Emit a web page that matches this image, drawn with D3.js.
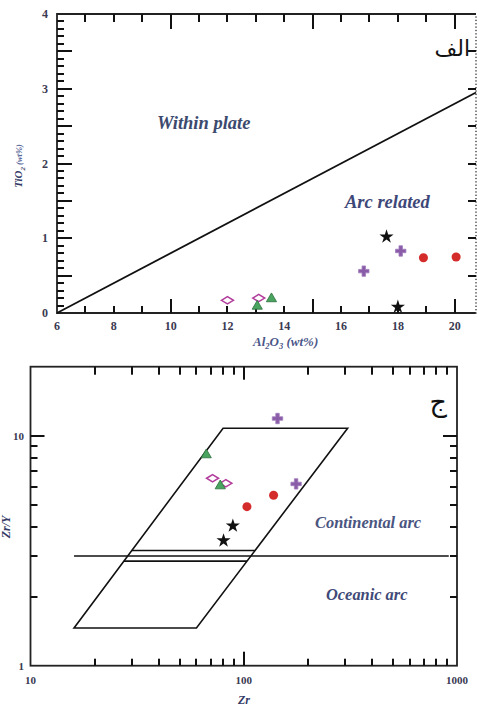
<!DOCTYPE html>
<html><head><meta charset="utf-8">
<script src="https://cdn.jsdelivr.net/npm/d3@7"></script>
<style>
html,body{margin:0;padding:0;background:#fff;}
svg{display:block;}
</style></head>
<body>
<svg id="c" width="478" height="706"></svg>
<script>
// ---------- DATA: panel "الف" (Al2O3 vs TiO2) ----------
const topDiamonds  = [[12.0, 0.17], [13.1, 0.20]];
const topTriangles = [[13.05, 0.09], [13.55, 0.19]];
const topCrosses   = [[16.8, 0.56], [18.1, 0.83]];
const topCircles   = [[18.9, 0.74], [20.05, 0.75]];
const topStars     = [[17.6, 1.02], [18.0, 0.08]];
const topBoundarySlope = 0.2;   // TiO2 = 0.2 * (Al2O3 - 6)
const topXLabels   = [6, 8, 10, 12, 14, 16, 18, 20];
const topXMajor    = [10, 15, 20];
const topXMinor    = [7, 8, 9, 11, 12, 13, 14, 16, 17, 18, 19];
const topYLabels   = [0, 1, 2, 3, 4];
const topYHalf     = [0.5, 1, 1.5, 2, 2.5, 3, 3.5];
const topYTenths   = [0.1,0.2,0.3,0.4,0.6,0.7,0.8,0.9,1.1,1.2,1.3,1.4,1.6,1.7,1.8,1.9,2.1,2.2,2.3,2.4,2.6,2.7,2.8,2.9,3.1,3.2,3.3,3.4,3.6,3.7,3.8,3.9];

// ---------- DATA: panel "ج" (Zr vs Zr/Y) ----------
const botDiamonds  = [[71.4, 6.54], [82.4, 6.22]];
const botTriangles = [[66.7, 8.27], [77.6, 6.06]];
const botCrosses   = [[144, 11.9], [176, 6.18]];
const botCircles   = [[103.5, 4.92], [138, 5.52]];
const botStars     = [[80.4, 3.5], [88.9, 4.06]];
const contArcField = [[16, 1.46], [60, 1.46], [307, 10.8], [80, 10.8]];
const arcDivider   = [[16, 3.0], [915, 3.0]];
const doubleLines  = [3.17, 2.85];
const botXLabels   = [10, 100, 1000];
const botXMinor    = [20, 30, 40, 50, 60, 70, 80, 90, 200, 300, 400, 500, 600, 700, 800, 900];
const botXMajor    = [100];
const botYLabels   = [1, 10];
const botYMinor    = [2, 3, 4, 5, 6, 7, 8, 9];

const svg = d3.select("#c");
const serif = "'Liberation Serif','DejaVu Serif',serif";
const labColor = "#3a3a52";
const titleColor = "#4a5688";

const colors = {diamond:"#b23c9c", triFill:"#48a45e", triStroke:"#2b6e3c", cross:"#8a5ca8", circle:"#d42b2b", star:"#111"};

const wideDiamond = {draw(ctx, size){const w=Math.sqrt(size)*0.75, h=Math.sqrt(size)*0.45; ctx.moveTo(-w,0);ctx.lineTo(0,-h);ctx.lineTo(w,0);ctx.lineTo(0,h);ctx.closePath();}};

function drawMarkers(g, xs, ys, sets){
  const sym = (type,size)=>d3.symbol().type(type).size(size)();
  g.selectAll(null).data(sets.diamonds).join("path")
    .attr("d", sym(wideDiamond, 64)).attr("transform", d=>`translate(${xs(d[0])},${ys(d[1])})`)
    .attr("fill","#fff").attr("stroke",colors.diamond).attr("stroke-width",1.5);
  g.selectAll(null).data(sets.triangles).join("path")
    .attr("d", sym(d3.symbolTriangle, 45)).attr("transform", d=>`translate(${xs(d[0])},${ys(d[1])})`)
    .attr("fill",colors.triFill).attr("stroke",colors.triStroke).attr("stroke-width",0.8);
  g.selectAll(null).data(sets.crosses).join("path")
    .attr("d", sym(d3.symbolCross, 60)).attr("transform", d=>`translate(${xs(d[0])},${ys(d[1])})`)
    .attr("fill",colors.cross).attr("stroke","#a07cbc").attr("stroke-width",0.8).attr("stroke-linejoin","round");
  g.selectAll(null).data(sets.circles).join("path")
    .attr("d", sym(d3.symbolCircle, 64)).attr("transform", d=>`translate(${xs(d[0])},${ys(d[1])})`)
    .attr("fill",colors.circle);
  g.selectAll(null).data(sets.stars).join("path")
    .attr("d", sym(d3.symbolStar, 62)).attr("transform", d=>`translate(${xs(d[0])},${ys(d[1])})`)
    .attr("fill",colors.star);
}

// tick marks as filled rects (one per value), positioned with the scales
function tickMarks(g, scale, values, orient, pos, len){
  const horiz = (orient === "bottom" || orient === "top");
  const w = 2;
  g.selectAll(null).data(values).join("rect")
    .attr("x", v => horiz ? Math.round(scale(v)) - w/2 : (orient === "left" ? pos : pos - len))
    .attr("y", v => horiz ? (orient === "top" ? pos : pos - len) : Math.round(scale(v)) - w/2)
    .attr("width", horiz ? w : len)
    .attr("height", horiz ? len : w)
    .attr("fill","#111");
}

// ================= TOP PANEL =================
const xT = d3.scaleLinear([6, 20.75], [57, 476]);
const yT = d3.scaleLinear([0, 4], [313, 14]);
const gT = svg.append("g");

gT.append("path").attr("d", `M${xT(20.75)},${yT(0)}H${xT(6)}V${yT(4)}H${xT(20.75)}`).attr("fill","none").attr("stroke","#222").attr("stroke-width",1.8);
// dotted right border as small dots
gT.selectAll(null).data(d3.range(0, 4.001, 0.045)).join("rect")
  .attr("x", xT(20.75) - 0.8).attr("y", v => yT(v) - 0.6).attr("width", 1.6).attr("height", 1.3).attr("fill","#555");

tickMarks(gT, xT, topXMinor, "bottom", yT(0), 7);
tickMarks(gT, xT, topXMajor, "bottom", yT(0), 14);
tickMarks(gT, xT, topXMinor, "top", yT(4), 8);
tickMarks(gT, xT, topXMajor, "top", yT(4), 15);
tickMarks(gT, yT, topYTenths, "left", xT(6), 7);
tickMarks(gT, yT, topYHalf, "left", xT(6), 15);
tickMarks(gT, yT, topYHalf, "right", xT(20.75), 8);

gT.selectAll(null).data(topXLabels).join("text")
  .attr("x", d=>xT(d)).attr("y", yT(0)+17).attr("text-anchor","middle")
  .attr("font-family",serif).attr("font-weight","bold").attr("font-size",12).attr("fill",labColor).text(d=>d);
gT.selectAll(null).data(topYLabels).join("text")
  .attr("x", 48).attr("y", d=>yT(d)+4).attr("text-anchor","end")
  .attr("font-family",serif).attr("font-weight","bold").attr("font-size",12).attr("fill",labColor).text(d=>d);

const xDom = xT.domain();
gT.append("path")
  .attr("d", d3.line().x(d=>xT(d[0])).y(d=>yT(d[1]))(xDom.map(a => [a, topBoundarySlope*(a-6)])))
  .attr("fill","none").attr("stroke","#111").attr("stroke-width",1.8);

gT.append("text").attr("x",157).attr("y",129).attr("font-family",serif).attr("font-style","italic").attr("font-weight","bold").attr("font-size",18.5).attr("fill","#3b4a6e").text("Within plate");
gT.append("text").attr("x",345).attr("y",208).attr("font-family",serif).attr("font-style","italic").attr("font-weight","bold").attr("font-size",18.5).attr("fill","#3e4878").text("Arc related");

gT.append("text").attr("x",470).attr("y",56).attr("text-anchor","end").attr("font-family","'DejaVu Sans','Noto Sans',sans-serif").attr("font-size",22).attr("fill","#111").text("الف");

const xtT = gT.append("text").attr("x",253).attr("y",346).attr("font-family",serif).attr("font-style","italic").attr("font-weight","bold").attr("font-size",13).attr("fill",titleColor);
xtT.append("tspan").text("Al");
xtT.append("tspan").attr("font-size",8.5).attr("dy",3).text("2");
xtT.append("tspan").attr("dy",-3).text("O");
xtT.append("tspan").attr("font-size",8.5).attr("dy",3).text("3");
xtT.append("tspan").attr("dy",-3).text("  (wt%)");

const ytT = gT.append("text").attr("transform","translate(22,166) rotate(-90)").attr("text-anchor","middle").attr("font-family",serif).attr("font-style","italic").attr("font-weight","bold").attr("font-size",11).attr("fill","#343a66");
ytT.append("tspan").text("TiO");
ytT.append("tspan").attr("font-size",7).attr("dy",3).text("2");
ytT.append("tspan").attr("dy",-3).attr("font-size",8.5).attr("fill","#5a6a9a").text(" (wt%)");

drawMarkers(gT, xT, yT, {diamonds:topDiamonds, triangles:topTriangles, crosses:topCrosses, circles:topCircles, stars:topStars});

// ================= BOTTOM PANEL =================
const xB = d3.scaleLog([10, 1000], [30.5, 457]);
const yB = d3.scaleLog([1, 20], [665.7, 366.7]);
const gB = svg.append("g");

gB.append("rect").attr("x",xB(10)).attr("y",yB(20)).attr("width",xB(1000)-xB(10)).attr("height",yB(1)-yB(20))
  .attr("fill","none").attr("stroke","#222").attr("stroke-width",1.8);

tickMarks(gB, xB, botXMinor, "bottom", yB(1), 7);
tickMarks(gB, xB, botXMajor, "bottom", yB(1), 14);
tickMarks(gB, xB, botXMinor, "top", yB(20), 8);
tickMarks(gB, xB, botXMajor, "top", yB(20), 13);
tickMarks(gB, yB, botYMinor, "left", xB(10), 7);
tickMarks(gB, yB, [10], "left", xB(10), 14);
tickMarks(gB, yB, botYMinor, "right", xB(1000), 7);
tickMarks(gB, yB, [10], "right", xB(1000), 14);

gB.selectAll(null).data(botXLabels).join("text")
  .attr("x", d=>xB(d)).attr("y", yB(1)+18).attr("text-anchor","middle")
  .attr("font-family",serif).attr("font-weight","bold").attr("font-size",11).attr("fill",labColor).text(d=>d);
gB.selectAll(null).data(botYLabels).join("text")
  .attr("x", 24).attr("y", d=>yB(d)+4).attr("text-anchor","end")
  .attr("font-family",serif).attr("font-weight","bold").attr("font-size",11).attr("fill",labColor).text(d=>d);

const lineB = d3.line().x(d=>xB(d[0])).y(d=>yB(d[1]));
gB.append("path").attr("d", lineB(contArcField)+"Z").attr("fill","none").attr("stroke","#111").attr("stroke-width",1.6);
gB.append("path").attr("d", lineB(arcDivider)).attr("fill","none").attr("stroke","#111").attr("stroke-width",1.6);

function edgeAt(p0, p1, yv){
  const t = (Math.log10(yv)-Math.log10(p0[1]))/(Math.log10(p1[1])-Math.log10(p0[1]));
  return Math.pow(10, Math.log10(p0[0]) + t*(Math.log10(p1[0])-Math.log10(p0[0])));
}
gB.selectAll(null).data(doubleLines).join("path")
  .attr("d", v=>lineB([[edgeAt(contArcField[0],contArcField[3],v), v],[edgeAt(contArcField[1],contArcField[2],v), v]]))
  .attr("fill","none").attr("stroke","#111").attr("stroke-width",1.6);

gB.append("text").attr("x",315).attr("y",528).attr("font-family",serif).attr("font-style","italic").attr("font-weight","bold").attr("font-size",16.4).attr("fill","#4a5580").text("Continental arc");
gB.append("text").attr("x",326).attr("y",600).attr("font-family",serif).attr("font-style","italic").attr("font-weight","bold").attr("font-size",16.4).attr("fill","#3f4a78").text("Oceanic arc");

gB.append("text").attr("x",447).attr("y",411).attr("text-anchor","end").attr("font-family","'DejaVu Sans','Noto Sans',sans-serif").attr("font-size",27).attr("fill","#111").text("ج");

gB.append("text").attr("x",244).attr("y",704).attr("text-anchor","middle").attr("font-family",serif).attr("font-style","italic").attr("font-weight","bold").attr("font-size",12).attr("fill","#343a66").text("Zr");
gB.append("text").attr("transform","translate(10,527) rotate(-90)").attr("text-anchor","middle").attr("font-family",serif).attr("font-style","italic").attr("font-weight","bold").attr("font-size",12).attr("fill","#343a66").text("Zr/Y");

drawMarkers(gB, xB, yB, {diamonds:botDiamonds, triangles:botTriangles, crosses:botCrosses, circles:botCircles, stars:botStars});
</script>
</body></html>
